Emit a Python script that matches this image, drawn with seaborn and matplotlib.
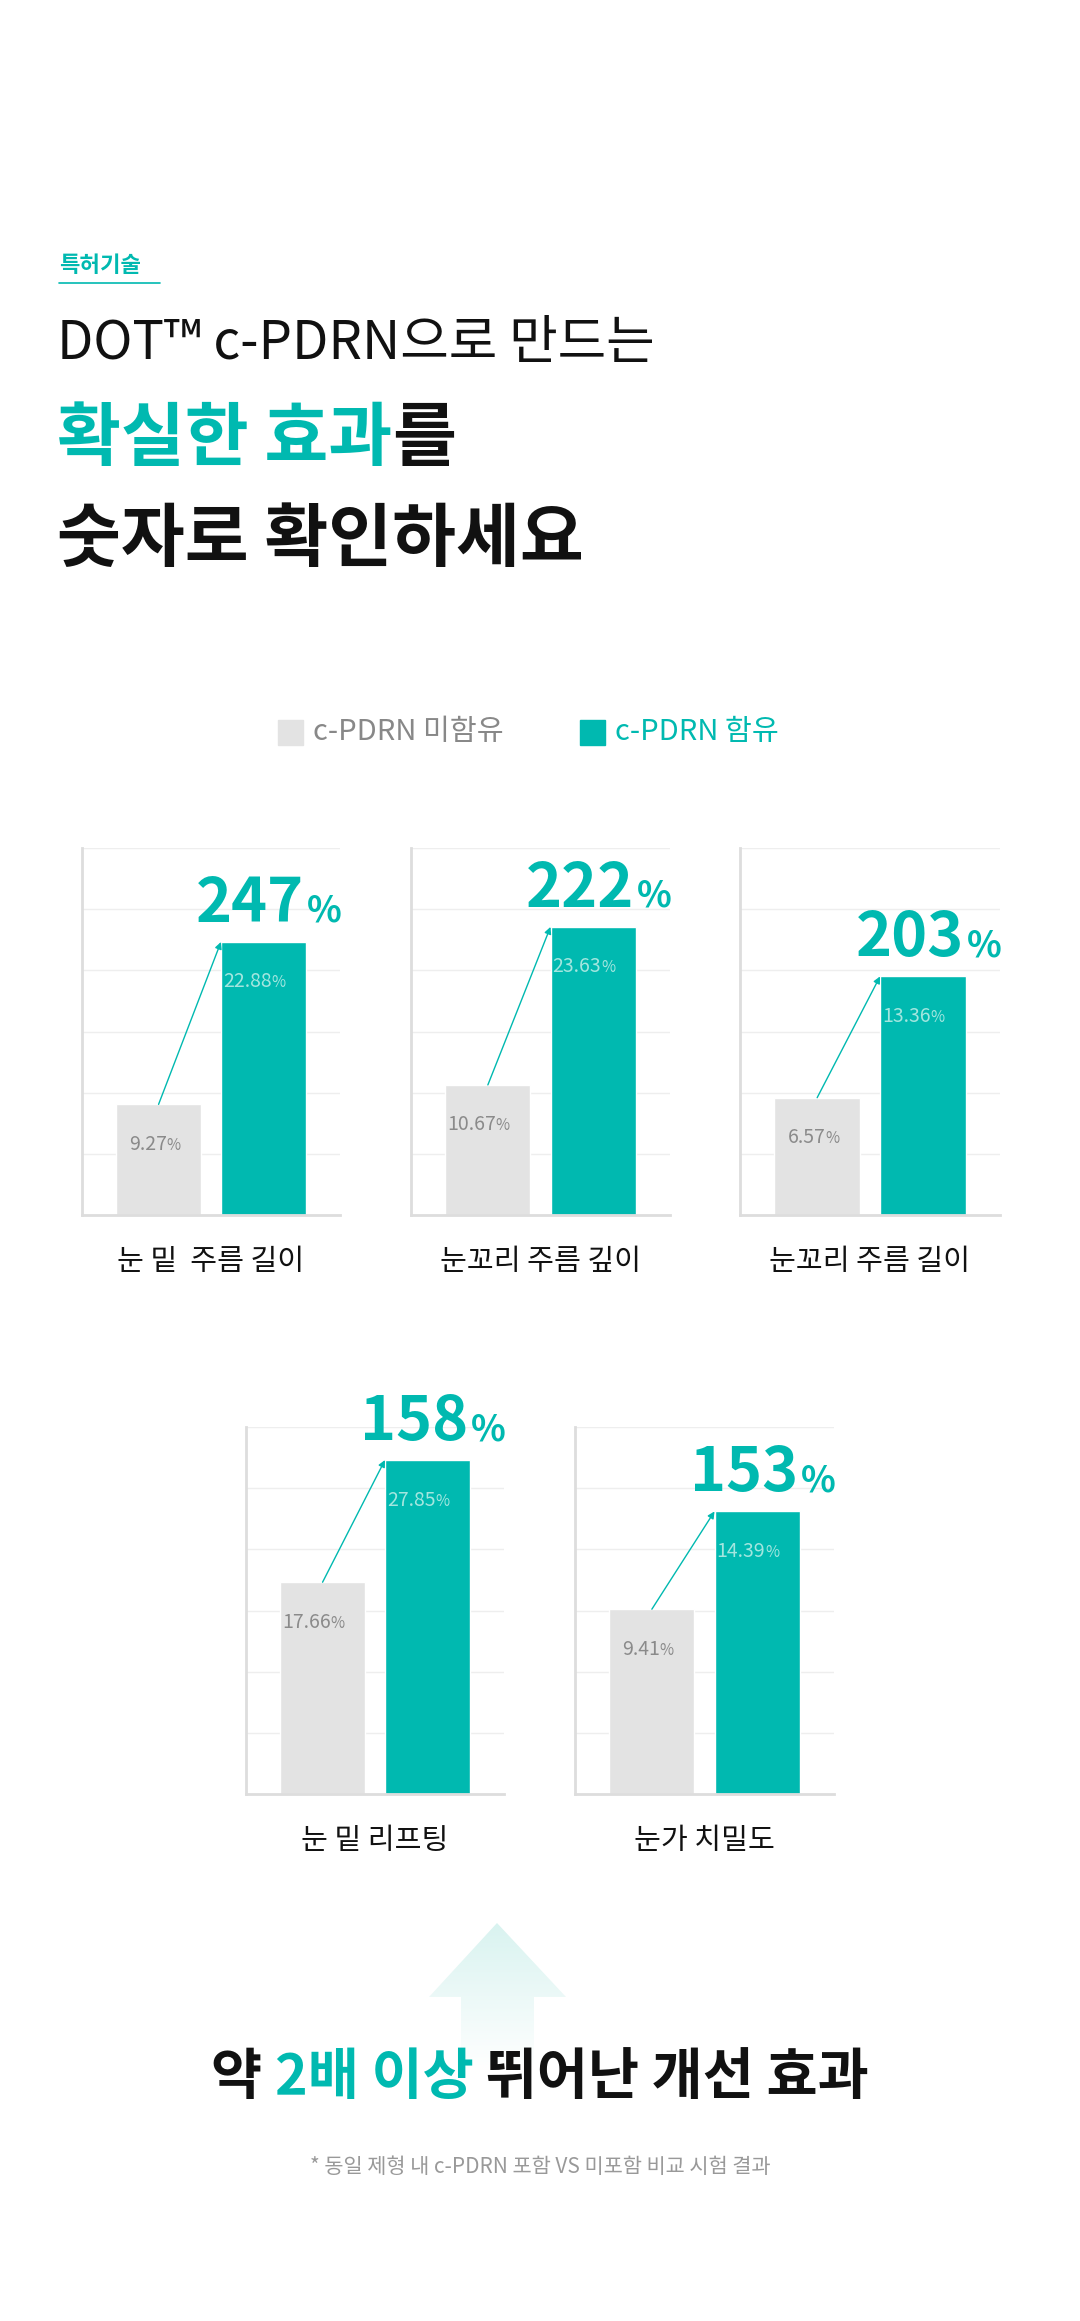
import matplotlib
matplotlib.use("Agg")
import matplotlib.pyplot as plt
import matplotlib.transforms as mtransforms
from matplotlib.patches import Polygon
import numpy as np
import pandas as pd
import seaborn as sns

sns.set_theme(style="white")
plt.rcParams['font.family'] = ['Noto Sans CJK KR', 'DejaVu Sans']

TEAL = "#00b9b0"
GRAY = "#e3e3e3"
W, H = 1080, 2321

# data
categories = ["눈 밑  주름 길이", "눈꼬리 주름 깊이", "눈꼬리 주름 길이", "눈 밑 리프팅", "눈가 치밀도"]
without_pdrn = [9.27, 10.67, 6.57, 17.66, 9.41]
with_pdrn = [22.88, 23.63, 13.36, 27.85, 14.39]
improvement = [247, 222, 203, 158, 153]
series = ["c-PDRN 미함유", "c-PDRN 함유"]
# fraction of axis height taken by the taller bar
fill_frac = [0.744, 0.785, 0.65, 0.91, 0.77]

# axes boxes in pixels: left, top, right, bottom
boxes = [(82, 848, 340, 1215), (411, 848, 670, 1215), (740, 848, 1000, 1215),
         (246, 1427, 504, 1794), (575, 1427, 834, 1794)]

fig = plt.figure(figsize=(W / 100, H / 100), dpi=100)
fig.patch.set_facecolor("white")

def fx(x): return x / W
def fy(y): return 1 - y / H

# header
fig.text(fx(59), fy(266), "특허기술", color=TEAL, fontsize=16, fontweight="bold", va="center")
fig.add_artist(plt.Line2D([fx(59), fx(160)], [fy(283), fy(283)], color=TEAL, lw=1.2))
fig.text(fx(57), fy(343), "DOT™ c-PDRN으로 만드는", color="#111111", fontsize=38, va="center")
t1 = fig.text(fx(57), fy(440), "확실한 효과", color=TEAL, fontsize=50, fontweight="bold", va="center")
fig.canvas.draw()
r = fig.canvas.get_renderer()
bb = t1.get_window_extent(r)
fig.text(bb.x1 / W, fy(440), "를", color="#111111", fontsize=50, fontweight="bold", va="center")
fig.text(fx(57), fy(541), "숫자로 확인하세요", color="#111111", fontsize=50, fontweight="bold", va="center")

# legend
fig.add_artist(plt.Rectangle((fx(278), fy(745)), 25 / W, 25 / H, color=GRAY, transform=fig.transFigure))
fig.text(fx(313), fy(732), series[0], color="#888888", fontsize=21, va="center")
fig.add_artist(plt.Rectangle((fx(580), fy(745)), 25 / W, 25 / H, color=TEAL, transform=fig.transFigure))
fig.text(fx(615), fy(732), series[1], color=TEAL, fontsize=21, va="center")

for i, (l, t, rr, b) in enumerate(boxes):
    ax = fig.add_axes([fx(l), fy(b), (rr - l) / W, (b - t) / H])
    df = pd.DataFrame({"group": series, "value": [without_pdrn[i], with_pdrn[i]]})
    sns.barplot(data=df, x="group", y="value", hue="group", palette=[GRAY, TEAL],
                width=0.81, legend=False, ax=ax, saturation=1)
    ymax = with_pdrn[i] / fill_frac[i]
    ax.set_ylim(0, ymax)
    ax.set_xlim(-0.73, 1.73)
    ax.set_yticks(np.linspace(0, ymax, 7))
    ax.yaxis.grid(True, color="#eeeeee", lw=1)
    ax.set_axisbelow(True)
    ax.set_xticks([]); ax.set_yticklabels([])
    ax.tick_params(left=False, bottom=False)
    ax.set_xlabel(""); ax.set_ylabel("")
    for s in ["top", "right"]:
        ax.spines[s].set_visible(False)
    for s in ["left", "bottom"]:
        ax.spines[s].set_color("#dddddd"); ax.spines[s].set_linewidth(2)

    # value labels inside bars
    lbl = [(0, without_pdrn[i], "#8a8a8a"), (1, with_pdrn[i], "#a3e6df")]
    for xpos, v, c in lbl:
        off = mtransforms.offset_copy(ax.transData, fig=fig, x=0, y=-40, units="dots")
        ax.text(xpos, v, f"{v:.2f}", color=c, fontsize=14, ha="right", va="center",
                transform=mtransforms.offset_copy(off, fig=fig, x=8, y=0, units="dots"))
        ax.text(xpos, v, "%", color=c, fontsize=11, ha="left", va="center",
                transform=mtransforms.offset_copy(off, fig=fig, x=8, y=-1, units="dots"))

    # arrow from gray top to teal top-left corner
    ax.annotate("", xy=(1 - 0.405, with_pdrn[i]), xytext=(0, without_pdrn[i]),
                arrowprops=dict(arrowstyle="-|>", color=TEAL, lw=1, mutation_scale=10,
                                shrinkA=0, shrinkB=0))

    # improvement percent
    trans = mtransforms.blended_transform_factory(ax.transAxes, ax.transData)
    base = mtransforms.offset_copy(trans, fig=fig, x=2, y=20, units="dots")
    pct = ax.text(1, with_pdrn[i], "%", color=TEAL, fontsize=26, fontweight="bold",
                  ha="right", va="baseline", transform=base, clip_on=False)
    pw = pct.get_window_extent(r).width
    ax.text(1, with_pdrn[i], str(improvement[i]), color=TEAL, fontsize=44, fontweight="bold",
            ha="right", va="baseline", clip_on=False,
            transform=mtransforms.offset_copy(base, fig=fig, x=-pw - 3, y=0, units="dots"))

    # category label
    fig.text(fx((l + rr) / 2), fy(b + 47), categories[i], color="#111111", fontsize=21,
             ha="center", va="center")

# up arrow with gradient
aax = fig.add_axes([0, 0, 1, 1], zorder=-1)
aax.set_xlim(0, W); aax.set_ylim(H, 0); aax.axis("off")
pts = [(429, 1997), (497, 1923), (566, 1997), (534, 1997), (534, 2070), (461, 2070), (461, 1997)]
poly = Polygon(pts, closed=True, facecolor="none", edgecolor="none")
aax.add_patch(poly)
grad = np.linspace(0, 1, 200).reshape(-1, 1)
cmap = matplotlib.colors.LinearSegmentedColormap.from_list("g", ["#d9f3f0", "#ffffff"])
im = aax.imshow(grad, cmap=cmap, extent=(429, 566, 2070, 1923), aspect="auto")
im.set_clip_path(poly)

# bottom message
parts = [("약 ", "#111111"), ("2배 이상", TEAL), (" 뛰어난 개선 효과", "#111111")]
widths = []
for s, c in parts:
    tt = fig.text(0, 0, s, fontsize=40, fontweight="bold")
    widths.append(tt.get_window_extent(r).width)
    tt.remove()
x0 = (W - sum(widths)) / 2
for (s, c), w in zip(parts, widths):
    fig.text(x0 / W, fy(2078), s, color=c, fontsize=40, fontweight="bold", va="center")
    x0 += w

fig.text(0.5, fy(2167), "* 동일 제형 내 c-PDRN 포함 VS 미포함 비교 시험 결과", color="#999999",
         fontsize=15, ha="center", va="center")

fig.savefig("out.png", dpi=100, facecolor="white")
